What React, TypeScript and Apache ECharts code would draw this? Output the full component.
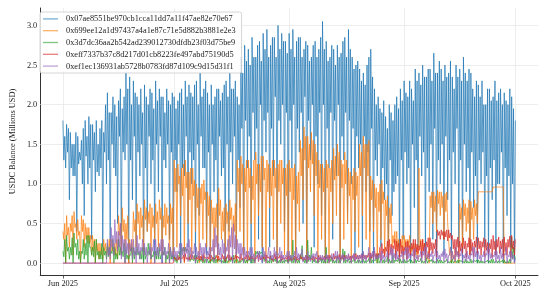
import React, { useEffect, useRef } from "react";
import * as echarts from "echarts";

const DAY = 86400000;
const START = Date.UTC(2025, 5, 1);

const seriesNames = [
  "0x07ae8551be970cb1cca11dd7a11f47ae82e70e67",
  "0x699ee12a1d97437a4a1e87c71e5d882b3881e2e3",
  "0x3d7dc36aa2b542ad239012730dfdb23f03d75be9",
  "0xeff7337b37c8d217d01cb8223fe497abd75190d5",
  "0xef1ec136931ab5728b0783fd87d109c9d15d31f1",
];
const seriesColors = ["#1f77b4", "#ff7f0e", "#2ca02c", "#d62728", "#9467bd"];

const tickDates = [Date.UTC(2025, 5, 1), Date.UTC(2025, 6, 1), Date.UTC(2025, 7, 1), Date.UTC(2025, 8, 1), Date.UTC(2025, 9, 1)];
const tickLabels = ["Jun 2025", "Jul 2025", "Aug 2025", "Sep 2025", "Oct 2025"];
const yTicks = [0, 0.5, 1.0, 1.5, 2.0, 2.5, 3.0];

// Four readings per day, Jun 1 .. Oct 1:
// 00:00 = high, 06:00 = mid, 12:00 = high2, 18:00 = low
const blueHigh = [
  1.8, 1.75, 1.65, 1.5, 1.6, 1.55, 1.8, 1.85, 1.75, 1.8,
  1.7, 1.65, 2.15, 1.9, 2.0, 2.05, 1.95, 2.4, 2.35, 2.3,
  2.1, 2.2, 2.25, 2.0, 2.15, 2.3, 2.2, 2.1, 2.2, 2.0,
  2.1, 2.05, 2.2, 2.3, 2.25, 2.1, 2.3, 2.4, 2.2, 2.15,
  2.25, 2.1, 2.2, 2.15, 2.3, 2.4, 2.2, 2.1, 2.6, 2.75,
  2.7, 2.85, 2.6, 2.8, 2.9, 2.95, 2.75, 2.85, 3.0, 2.9, 2.8,
  2.9, 2.95, 2.8, 2.85, 2.7, 2.75, 2.6, 2.8, 2.7, 3.05,
  2.8, 2.6, 2.7, 2.75, 2.65, 2.85, 2.95, 2.6, 2.5, 2.45,
  2.4, 2.5, 2.7, 2.2, 2.1, 1.9, 1.85, 2.0, 1.8, 2.1, 2.2,
  2.3, 2.1, 2.2, 2.45, 2.4, 2.5, 2.35, 2.45, 2.65, 2.4,
  2.45, 2.5, 2.4, 2.35, 2.5, 2.45, 2.6, 2.3, 2.4, 2.1,
  2.25, 2.3, 2.0, 2.2, 2.1, 2.05, 2.2, 2.15, 2.0, 2.1,
  1.8,
];
const blueMid = [
  1.3, 1.4, 1.2, 1.1, 1.25, 1.0, 1.35, 1.2, 1.3, 1.15,
  1.2, 1.4, 1.3, 1.5, 1.1, 1.6, 1.4, 1.5, 1.3, 1.6,
  1.4, 1.5, 1.2, 1.6, 1.3, 1.5, 1.6, 1.3, 1.5, 1.4,
  1.3, 1.5, 1.2, 1.6, 1.4, 1.3, 1.5, 1.6, 1.2, 1.4,
  1.5, 1.3, 1.6, 1.2, 1.5, 1.4, 1.6, 1.3, 1.7, 1.8,
  1.6, 1.9, 1.7, 2.0, 1.8, 1.9, 1.7, 2.1, 1.8, 2.0, 1.9,
  1.8, 2.0, 1.7, 1.9, 2.1, 1.8, 2.0, 1.6, 1.9, 2.0,
  1.7, 1.9, 1.8, 2.0, 1.6, 1.9, 1.8, 1.7, 1.6, 1.5,
  1.6, 1.4, 1.7, 1.3, 1.5, 1.2, 1.0, 1.3, 0.9, 1.1, 1.3,
  1.4, 1.2, 1.5, 1.3, 1.6, 1.4, 1.2, 1.5, 1.7, 1.3,
  1.5, 1.6, 1.3, 1.4, 1.7, 1.3, 1.5, 1.2, 1.4, 1.1,
  1.3, 1.4, 1.1, 1.2, 1.3, 1.0, 1.4, 1.2, 1.1, 1.0,
];
const blueHigh2 = [
  1.6, 1.7, 1.5, 1.65, 1.4, 1.7, 1.6, 1.75, 1.65, 1.5,
  1.8, 2.0, 1.9, 2.1, 1.85, 2.2, 2.1, 2.2, 2.0, 2.15,
  2.0, 1.9, 2.1, 2.2, 1.95, 2.05, 2.1, 1.9, 2.05, 2.15,
  1.95, 2.15, 2.0, 2.1, 2.15, 2.25, 2.0, 2.1, 2.3, 2.0,
  2.0, 2.2, 2.05, 2.25, 2.1, 2.2, 2.3, 2.0, 2.4, 2.55,
  2.5, 2.6, 2.75, 2.55, 2.7, 2.6, 2.85, 2.6, 2.7, 2.8, 2.65,
  2.7, 2.6, 2.85, 2.6, 2.8, 2.55, 2.75, 2.6, 2.85, 2.7,
  2.55, 2.75, 2.5, 2.6, 2.8, 2.6, 2.7, 2.45, 2.55, 2.3,
  2.25, 2.6, 2.35, 2.0, 1.95, 2.05, 1.7, 1.9, 2.0, 1.95, 2.05,
  2.15, 2.3, 2.05, 2.3, 2.25, 2.35, 2.45, 2.3, 2.4, 2.55,
  2.3, 2.35, 2.55, 2.2, 2.35, 2.3, 2.4, 2.45, 2.2, 2.3,
  2.1, 2.0, 2.2, 2.05, 2.3, 2.15, 2.0, 2.05, 2.2, 1.95,
];
const blueLow = [
  1.2, 0.8, 1.1, 0.4, 1.3, 0.6, 1.0, 0.3, 0.9, 1.1,
  0.2, 1.0, 0.1, 1.2, 0.5, 0.1, 1.3, 0.0, 0.8, 0.2,
  1.1, 0.0, 0.4, 1.0, 0.1, 0.9, 0.0, 1.2, 0.3, 0.05,
  0.9, 0.0, 1.1, 0.2, 1.0, 0.0, 0.6, 1.2, 0.1, 0.0,
  0.9, 0.1, 1.1, 0.0, 0.4, 1.0, 0.0, 0.7, 0.1, 1.2,
  0.0, 1.3, 0.3, 0.0, 1.4, 0.2, 1.1, 0.0, 1.5, 0.4, 0.0,
  1.2, 0.1, 1.4, 0.5, 0.0, 1.3, 0.2, 1.0, 0.6, 0.0,
  1.2, 0.3, 1.1, 0.0, 1.3, 0.5, 1.0, 0.1, 1.2, 0.0,
  0.9, 0.4, 0.0, 1.1, 0.2, 0.8, 0.0, 0.6, 1.0, 0.0, 0.3,
  1.0, 0.0, 0.7, 0.2, 1.1, 0.0, 0.9, 0.3, 0.0, 1.0,
  0.1, 0.8, 0.0, 1.0, 0.2, 0.0, 0.9, 0.1, 0.7, 0.0,
  1.0, 0.2, 0.0, 0.8, 0.1, 1.0, 0.0, 0.6, 0.2, 0.0,
];

const orangeHigh = [
  0.4, 0.6, 0.5, 0.65, 0.55, 0.6, 0.5, 0.45, 0.35, 0.3,
  0.25, 0.3, 0.2, 0.3, 0.25, 0.6, 0.7, 0.5, 0.3, 0.65,
  0.75, 0.7, 0.8, 0.65, 0.7, 0.75, 0.8, 0.6, 0.7, 0.75,
  1.3, 1.25, 1.2, 1.3, 1.15, 1.2, 1.0, 0.95, 1.05, 0.9,
  0.8, 0.7, 0.95, 0.65, 0.75, 0.8, 0.6, 1.3, 1.35, 1.2,
  1.3, 1.1, 1.4, 1.25, 1.35, 1.3, 1.2, 1.3, 1.25, 1.3, 1.2,
  1.3, 1.2, 1.1, 1.55, 1.72, 1.6, 1.65, 1.5, 1.3, 1.25,
  1.3, 1.2, 1.45, 1.5, 1.3, 1.4, 1.2, 1.1, 1.15, 1.5,
  1.6, 1.5, 1.1, 1.0, 0.9, 1.05, 0.8, 0.7, 0.35, 0.4, 0.3,
  0.35, 0.3, 0.2, 0.25, 1.2, 0.3, 0.1, 0.85, 0.9, 0.92,
  0.9, 0.88, 0.3, 0.15, 0.2, 0.75, 0.8, 0.7, 0.78, 0.8,
  0.9, 0.9, 0.9, 0.9, 0.96, 0.96, 0.96, 0.0, 0.0, 0.0,
  0.0,
];
const orangeMid = [
  0.3, 0.35, 0.4, 0.45, 0.35, 0.4, 0.3, 0.25, 0.15, 0.15,
  0.1, 0.15, 0.12, 0.15, 0.1, 0.35, 0.4, 0.3, 0.15, 0.4,
  0.5, 0.45, 0.55, 0.5, 0.45, 0.5, 0.55, 0.45, 0.5, 0.5,
  0.9, 1.0, 0.85, 0.95, 0.8, 0.85, 0.7, 0.75, 0.8, 0.6,
  0.5, 0.45, 0.6, 0.4, 0.5, 0.55, 0.4, 0.9, 1.0, 0.9,
  0.95, 0.8, 1.0, 0.9, 1.05, 0.9, 0.85, 0.95, 0.9, 1.0, 0.85,
  0.9, 0.8, 0.75, 1.1, 1.3, 1.2, 1.25, 1.1, 0.95, 0.9,
  0.95, 0.9, 1.05, 1.1, 0.95, 1.0, 0.85, 0.8, 0.85, 1.1,
  1.2, 1.1, 0.8, 0.7, 0.65, 0.75, 0.6, 0.5, 0.25, 0.2, 0.2,
  0.2, 0.2, 0.15, 0.1, 0.2, 0.15, 0.05, 0.7, 0.65, 0.75,
  0.7, 0.65, 0.1, 0.05, 0.1, 0.55, 0.6, 0.5, 0.55, 0.6,
  0.9, 0.9, 0.9, 0.9, 0.96, 0.96, 0.96, 0.0, 0.0, 0.0,
];
const orangeHigh2 = [
  0.5, 0.45, 0.6, 0.5, 0.4, 0.55, 0.45, 0.35, 0.3, 0.25,
  0.2, 0.25, 0.3, 0.2, 0.3, 0.5, 0.55, 0.6, 0.25, 0.55,
  0.65, 0.6, 0.7, 0.75, 0.6, 0.65, 0.7, 0.75, 0.6, 0.7,
  1.2, 1.1, 1.25, 1.15, 1.2, 1.05, 0.95, 1.0, 0.9, 0.85,
  0.7, 0.75, 0.8, 0.7, 0.65, 0.7, 0.75, 1.2, 1.25, 1.3,
  1.2, 1.3, 1.25, 1.35, 1.2, 1.25, 1.3, 1.2, 1.3, 1.2, 1.25,
  1.2, 1.25, 1.15, 1.45, 1.6, 1.5, 1.55, 1.4, 1.25, 1.2,
  1.25, 1.3, 1.35, 1.4, 1.25, 1.3, 1.15, 1.2, 1.1, 1.4,
  1.5, 1.55, 1.05, 0.95, 1.0, 0.9, 0.85, 0.75, 0.4, 0.3, 0.35,
  0.3, 0.35, 0.25, 0.2, 0.3, 0.25, 0.15, 0.9, 0.85, 0.9,
  0.85, 0.9, 0.2, 0.1, 0.15, 0.7, 0.75, 0.8, 0.7, 0.75,
  0.9, 0.9, 0.9, 0.9, 0.96, 0.96, 0.96, 0.0, 0.0, 0.0,
];
const orangeLow = [
  0.0, 0.2, 0.1, 0.3, 0.0, 0.2, 0.25, 0.1, 0.0, 0.05,
  0.05, 0.1, 0.0, 0.1, 0.05, 0.1, 0.2, 0.0, 0.1, 0.2,
  0.3, 0.1, 0.4, 0.0, 0.3, 0.2, 0.1, 0.35, 0.0, 0.1,
  0.2, 0.6, 0.0, 0.5, 0.1, 0.4, 0.0, 0.3, 0.2, 0.0,
  0.1, 0.0, 0.3, 0.1, 0.0, 0.2, 0.0, 0.4, 0.1, 0.0,
  0.5, 0.0, 0.6, 0.2, 0.0, 0.7, 0.3, 0.0, 0.5, 0.1, 0.0,
  0.1, 0.0, 0.4, 0.8, 0.0, 0.9, 0.6, 0.0, 0.3, 0.0,
  0.0, 0.5, 0.6, 0.0, 0.3, 0.5, 0.0, 0.4, 0.2, 0.6,
  0.3, 0.0, 0.4, 0.0, 0.3, 0.1, 0.0, 0.2, 0.1, 0.0, 0.05,
  0.05, 0.1, 0.0, 0.05, 0.1, 0.0, 0.0, 0.5, 0.4, 0.6,
  0.3, 0.5, 0.0, 0.0, 0.0, 0.2, 0.4, 0.1, 0.3, 0.5,
  0.9, 0.9, 0.9, 0.9, 0.96, 0.96, 0.96, 0.0, 0.0, 0.0,
];

const greenHigh = [
  0.15, 0.35, 0.2, 0.38, 0.3, 0.15, 0.25, 0.35, 0.2, 0.3,
  0.15, 0.2, 0.25, 0.15, 0.2, 0.3, 0.15, 0.2, 0.1, 0.2,
  0.2, 0.15, 0.2, 0.25, 0.1, 0.15, 0.2, 0.15, 0.1, 0.2,
  0.1, 0.05, 0.2, 0.2, 0.15, 0.05, 0.1, 0.05, 0.08, 0.05,
  0.05, 0.1, 0.05, 0.03, 0.08, 0.05, 0.1, 0.05, 0.03, 0.05,
  0.05, 0.08, 0.15, 0.15, 0.12, 0.05, 0.1, 0.05, 0.03, 0.05, 0.04,
  0.05, 0.29, 0.05, 0.1, 0.05, 0.29, 0.2, 0.05, 0.03, 0.05,
  0.2, 0.05, 0.04, 0.1, 0.03, 0.15, 0.05, 0.03, 0.02, 0.04,
  0.05, 0.03, 0.1, 0.04, 0.12, 0.05, 0.03, 0.05, 0.1, 0.04, 0.05,
  0.05, 0.03, 0.04, 0.05, 0.02, 0.03, 0.06, 0.04, 0.03, 0.05,
  0.04, 0.03, 0.02, 0.05, 0.03, 0.04, 0.02, 0.03, 0.05, 0.03,
  0.04, 0.03, 0.02, 0.03, 0.05, 0.03, 0.02, 0.04, 0.03, 0.33,
  0.05,
];
const greenMid = [
  0.08, 0.15, 0.1, 0.2, 0.05, 0.12, 0.1, 0.2, 0.08, 0.1,
  0.05, 0.1, 0.08, 0.12, 0.05, 0.1, 0.08, 0.05, 0.1, 0.05,
  0.1, 0.05, 0.05, 0.1, 0.08, 0.05, 0.05, 0.1, 0.05, 0.05,
  0.02, 0.05, 0.15, 0.15, 0.02, 0.03, 0.0, 0.02, 0.0, 0.0,
  0.02, 0.0, 0.02, 0.0, 0.0, 0.02, 0.0, 0.0, 0.02, 0.0,
  0.03, 0.0, 0.12, 0.12, 0.02, 0.0, 0.0, 0.02, 0.0, 0.0, 0.02,
  0.02, 0.0, 0.0, 0.05, 0.0, 0.02, 0.0, 0.0, 0.02, 0.0,
  0.0, 0.02, 0.0, 0.0, 0.05, 0.0, 0.0, 0.02, 0.0, 0.0,
  0.0, 0.02, 0.0, 0.03, 0.0, 0.0, 0.02, 0.0, 0.0, 0.02, 0.0,
  0.0, 0.02, 0.0, 0.0, 0.02, 0.0, 0.0, 0.02, 0.0, 0.0,
  0.0, 0.02, 0.0, 0.0, 0.0, 0.02, 0.0, 0.0, 0.0, 0.02,
  0.0, 0.0, 0.02, 0.0, 0.0, 0.0, 0.02, 0.0, 0.0, 0.05,
];
const greenHigh2 = [
  0.3, 0.2, 0.32, 0.25, 0.15, 0.3, 0.35, 0.2, 0.28, 0.15,
  0.25, 0.15, 0.2, 0.3, 0.12, 0.2, 0.25, 0.1, 0.2, 0.15,
  0.15, 0.2, 0.1, 0.2, 0.15, 0.2, 0.1, 0.2, 0.15, 0.1,
  0.08, 0.15, 0.2, 0.18, 0.05, 0.1, 0.04, 0.08, 0.05, 0.03,
  0.08, 0.05, 0.04, 0.06, 0.03, 0.08, 0.04, 0.03, 0.06, 0.04,
  0.1, 0.05, 0.15, 0.14, 0.06, 0.03, 0.05, 0.08, 0.04, 0.03, 0.05,
  0.1, 0.06, 0.04, 0.22, 0.05, 0.1, 0.04, 0.03, 0.06, 0.04,
  0.05, 0.08, 0.03, 0.04, 0.18, 0.04, 0.03, 0.06, 0.04, 0.03,
  0.03, 0.06, 0.04, 0.1, 0.03, 0.04, 0.08, 0.03, 0.04, 0.06, 0.03,
  0.03, 0.05, 0.02, 0.04, 0.06, 0.02, 0.03, 0.05, 0.02, 0.04,
  0.02, 0.05, 0.03, 0.02, 0.04, 0.03, 0.05, 0.02, 0.03, 0.04,
  0.03, 0.02, 0.04, 0.05, 0.02, 0.03, 0.04, 0.02, 0.05, 0.2,
];
const greenLow = [
  0.0, 0.05, 0.0, 0.1, 0.0, 0.05, 0.0, 0.1, 0.0, 0.05,
  0.0, 0.05, 0.1, 0.0, 0.05, 0.1, 0.0, 0.05, 0.0, 0.1,
  0.05, 0.0, 0.1, 0.05, 0.0, 0.05, 0.1, 0.0, 0.0, 0.05,
  0.0, 0.0, 0.15, 0.15, 0.05, 0.0, 0.03, 0.0, 0.02, 0.0,
  0.0, 0.02, 0.0, 0.0, 0.02, 0.0, 0.03, 0.0, 0.0, 0.0,
  0.0, 0.02, 0.1, 0.12, 0.05, 0.0, 0.02, 0.0, 0.0, 0.0, 0.0,
  0.0, 0.02, 0.0, 0.03, 0.0, 0.05, 0.02, 0.0, 0.0, 0.0,
  0.02, 0.0, 0.0, 0.02, 0.0, 0.03, 0.0, 0.0, 0.0, 0.0,
  0.0, 0.0, 0.02, 0.0, 0.03, 0.0, 0.0, 0.0, 0.02, 0.0, 0.0,
  0.0, 0.0, 0.0, 0.02, 0.0, 0.0, 0.02, 0.0, 0.0, 0.0,
  0.0, 0.0, 0.0, 0.02, 0.0, 0.0, 0.0, 0.0, 0.02, 0.0,
  0.0, 0.0, 0.0, 0.0, 0.02, 0.0, 0.0, 0.0, 0.0, 0.1,
];

const redHigh = [
  0, 0, 0, 0, 0, 0, 0, 0, 0, 0,
  0, 0, 0, 0, 0, 0, 0, 0, 0, 0,
  0, 0, 0, 0, 0, 0, 0, 0, 0, 0,
  0.08, 0.1, 0.06, 0.12, 0.08, 0.1, 0.07, 0.09, 0.12, 0.08,
  0.1, 0.07, 0.09, 0.11, 0.08, 0.1, 0.06, 0.09, 0.12, 0.08,
  0.1, 0.09, 0.07, 0.11, 0.08, 0.1, 0.09, 0.12, 0.08, 0.1, 0.07,
  0.09, 0.06, 0.08, 0.1, 0.07, 0.09, 0.06, 0.08, 0.1, 0.07,
  0.08, 0.1, 0.12, 0.09, 0.08, 0.1, 0.11, 0.09, 0.12, 0.1,
  0.12, 0.1, 0.13, 0.15, 0.12, 0.25, 0.2, 0.3, 0.22, 0.28, 0.3,
  0.2, 0.28, 0.25, 0.3, 0.22, 0.3, 0.27, 0.32, 0.25, 0.42,
  0.42, 0.4, 0.42, 0.35, 0.3, 0.28, 0.32, 0.25, 0.3, 0.28,
  0.32, 0.27, 0.3, 0.25, 0.35, 0.3, 0.28, 0.33, 0.3, 0.35,
  0.3,
];
const redMid = [
  0, 0, 0, 0, 0, 0, 0, 0, 0, 0,
  0, 0, 0, 0, 0, 0, 0, 0, 0, 0,
  0, 0, 0, 0, 0, 0, 0, 0, 0, 0,
  0.05, 0.04, 0.06, 0.05, 0.04, 0.06, 0.05, 0.04, 0.06, 0.05,
  0.05, 0.06, 0.04, 0.05, 0.06, 0.04, 0.05, 0.06, 0.04, 0.05,
  0.04, 0.05, 0.06, 0.04, 0.05, 0.06, 0.04, 0.05, 0.06, 0.04, 0.05,
  0.04, 0.05, 0.04, 0.05, 0.04, 0.05, 0.04, 0.05, 0.04, 0.05,
  0.05, 0.06, 0.05, 0.06, 0.05, 0.06, 0.05, 0.06, 0.05, 0.06,
  0.06, 0.07, 0.06, 0.08, 0.1, 0.12, 0.15, 0.12, 0.18, 0.15, 0.12,
  0.15, 0.12, 0.18, 0.14, 0.16, 0.15, 0.2, 0.16, 0.18, 0.35,
  0.35, 0.33, 0.32, 0.18, 0.2, 0.15, 0.18, 0.2, 0.15, 0.2,
  0.18, 0.2, 0.16, 0.18, 0.17, 0.2, 0.18, 0.15, 0.2, 0.18,
];
const redHigh2 = [
  0, 0, 0, 0, 0, 0, 0, 0, 0, 0,
  0, 0, 0, 0, 0, 0, 0, 0, 0, 0,
  0, 0, 0, 0, 0, 0, 0, 0, 0, 0,
  0.06, 0.08, 0.1, 0.07, 0.11, 0.06, 0.09, 0.1, 0.07, 0.11,
  0.07, 0.1, 0.06, 0.09, 0.11, 0.07, 0.1, 0.08, 0.06, 0.1,
  0.08, 0.06, 0.1, 0.07, 0.11, 0.08, 0.06, 0.09, 0.1, 0.07, 0.09,
  0.07, 0.09, 0.06, 0.08, 0.1, 0.06, 0.09, 0.07, 0.08, 0.09,
  0.1, 0.07, 0.09, 0.11, 0.1, 0.08, 0.09, 0.12, 0.1, 0.11,
  0.1, 0.13, 0.11, 0.12, 0.2, 0.18, 0.28, 0.24, 0.3, 0.25, 0.22,
  0.27, 0.22, 0.3, 0.24, 0.28, 0.25, 0.32, 0.26, 0.3, 0.4,
  0.4, 0.42, 0.38, 0.3, 0.33, 0.25, 0.28, 0.32, 0.26, 0.33,
  0.28, 0.32, 0.26, 0.3, 0.28, 0.33, 0.3, 0.26, 0.34, 0.28,
];
const redLow = [
  0, 0, 0, 0, 0, 0, 0, 0, 0, 0,
  0, 0, 0, 0, 0, 0, 0, 0, 0, 0,
  0, 0, 0, 0, 0, 0, 0, 0, 0, 0,
  0.03, 0.05, 0.02, 0.04, 0.05, 0.03, 0.04, 0.02, 0.05, 0.03,
  0.04, 0.03, 0.05, 0.02, 0.04, 0.03, 0.05, 0.02, 0.04, 0.03,
  0.05, 0.03, 0.02, 0.04, 0.03, 0.05, 0.02, 0.04, 0.03, 0.05, 0.02,
  0.03, 0.02, 0.04, 0.03, 0.02, 0.04, 0.03, 0.02, 0.04, 0.03,
  0.04, 0.03, 0.05, 0.04, 0.03, 0.05, 0.04, 0.03, 0.05, 0.04,
  0.05, 0.04, 0.06, 0.05, 0.04, 0.08, 0.06, 0.1, 0.05, 0.08, 0.1,
  0.05, 0.1, 0.08, 0.12, 0.06, 0.1, 0.08, 0.12, 0.07, 0.3,
  0.3, 0.28, 0.3, 0.1, 0.08, 0.12, 0.07, 0.1, 0.08, 0.12,
  0.1, 0.08, 0.12, 0.07, 0.1, 0.12, 0.08, 0.1, 0.07, 0.1,
];

const purpleHigh = [
  0, 0, 0, 0, 0, 0, 0, 0, 0, 0,
  0, 0, 0.3, 0.45, 0.55, 0.4, 0.35, 0.3, 0.25, 0.3,
  0.35, 0.2, 0.25, 0.15, 0.2, 0.3, 0.25, 0.3, 0.15, 0.2,
  0.2, 0.15, 0.25, 0.2, 0.3, 0.15, 0.2, 0.25, 0.2, 0.15,
  0.2, 0.45, 0.25, 0.3, 0.2, 0.35, 0.5, 0.3, 0.25, 0.2,
  0.15, 0.2, 0.1, 0.15, 0.2, 0.1, 0.15, 0.2, 0.12, 0.15, 0.1,
  0.15, 0.1, 0.2, 0.12, 0.08, 0.15, 0.1, 0.12, 0.08, 0.1,
  0.12, 0.08, 0.1, 0.15, 0.1, 0.08, 0.12, 0.1, 0.08, 0.1,
  0.15, 0.1, 0.12, 0.2, 0.1, 0.15, 0.08, 0.12, 0.18, 0.15, 0.1,
  0.15, 0.2, 0.12, 0.18, 0.1, 0.15, 0.2, 0.12, 0.1, 0.15,
  0.12, 0.18, 0.1, 0.15, 0.2, 0.12, 0.1, 0.15, 0.12, 0.2,
  0.15, 0.1, 0.12, 0.18, 0.1, 0.15, 0.2, 0.12, 0.1, 0.15,
  0.05,
];
const purpleMid = [
  0, 0, 0, 0, 0, 0, 0, 0, 0, 0,
  0, 0, 0.1, 0.2, 0.25, 0.2, 0.15, 0.12, 0.15, 0.1,
  0.12, 0.15, 0.1, 0.12, 0.15, 0.1, 0.15, 0.1, 0.12, 0.08,
  0.08, 0.12, 0.1, 0.12, 0.1, 0.12, 0.08, 0.1, 0.12, 0.1,
  0.15, 0.2, 0.1, 0.12, 0.15, 0.2, 0.18, 0.12, 0.1, 0.08,
  0.1, 0.06, 0.08, 0.05, 0.08, 0.1, 0.05, 0.08, 0.1, 0.05, 0.08,
  0.05, 0.08, 0.06, 0.1, 0.05, 0.04, 0.06, 0.08, 0.05, 0.04,
  0.05, 0.06, 0.08, 0.04, 0.06, 0.05, 0.04, 0.06, 0.05, 0.06,
  0.05, 0.1, 0.08, 0.05, 0.06, 0.05, 0.08, 0.1, 0.06, 0.05, 0.08,
  0.1, 0.06, 0.09, 0.05, 0.08, 0.1, 0.06, 0.08, 0.09, 0.05,
  0.08, 0.06, 0.1, 0.05, 0.08, 0.09, 0.06, 0.05, 0.1, 0.08,
  0.05, 0.08, 0.1, 0.06, 0.08, 0.05, 0.06, 0.1, 0.08, 0.05,
];
const purpleHigh2 = [
  0, 0, 0, 0, 0, 0, 0, 0, 0, 0,
  0, 0, 0.2, 0.35, 0.4, 0.5, 0.3, 0.25, 0.3, 0.2,
  0.25, 0.3, 0.2, 0.25, 0.3, 0.2, 0.3, 0.2, 0.25, 0.15,
  0.15, 0.25, 0.2, 0.25, 0.2, 0.25, 0.15, 0.2, 0.25, 0.2,
  0.3, 0.35, 0.2, 0.25, 0.3, 0.45, 0.35, 0.25, 0.2, 0.15,
  0.2, 0.12, 0.15, 0.1, 0.15, 0.2, 0.1, 0.15, 0.2, 0.1, 0.15,
  0.1, 0.15, 0.12, 0.18, 0.1, 0.08, 0.12, 0.15, 0.1, 0.08,
  0.1, 0.12, 0.15, 0.08, 0.12, 0.1, 0.08, 0.12, 0.1, 0.12,
  0.1, 0.2, 0.15, 0.1, 0.12, 0.1, 0.15, 0.2, 0.12, 0.1, 0.15,
  0.2, 0.12, 0.18, 0.1, 0.15, 0.2, 0.12, 0.15, 0.18, 0.1,
  0.15, 0.12, 0.2, 0.1, 0.15, 0.18, 0.12, 0.1, 0.2, 0.15,
  0.1, 0.15, 0.2, 0.12, 0.15, 0.1, 0.12, 0.2, 0.15, 0.1,
];
const purpleLow = [
  0, 0, 0, 0, 0, 0, 0, 0, 0, 0,
  0, 0, 0.05, 0.1, 0.15, 0.05, 0.0, 0.1, 0.05, 0.0,
  0.05, 0.1, 0.0, 0.05, 0.0, 0.08, 0.0, 0.05, 0.0, 0.03,
  0.05, 0.0, 0.08, 0.02, 0.05, 0.0, 0.06, 0.03, 0.0, 0.05,
  0.02, 0.1, 0.0, 0.05, 0.03, 0.0, 0.1, 0.05, 0.0, 0.03,
  0.02, 0.0, 0.03, 0.01, 0.0, 0.02, 0.03, 0.0, 0.01, 0.02, 0.0,
  0.02, 0.0, 0.03, 0.01, 0.0, 0.02, 0.01, 0.0, 0.02, 0.01,
  0.0, 0.02, 0.01, 0.0, 0.02, 0.01, 0.0, 0.02, 0.01, 0.0,
  0.02, 0.0, 0.03, 0.05, 0.0, 0.02, 0.01, 0.0, 0.03, 0.02, 0.0,
  0.02, 0.05, 0.0, 0.03, 0.02, 0.0, 0.05, 0.02, 0.0, 0.03,
  0.02, 0.0, 0.04, 0.02, 0.05, 0.0, 0.02, 0.03, 0.0, 0.05,
  0.02, 0.0, 0.03, 0.05, 0.0, 0.02, 0.04, 0.0, 0.02, 0.0,
];

const readings = [
  [blueHigh, blueMid, blueHigh2, blueLow],
  [orangeHigh, orangeMid, orangeHigh2, orangeLow],
  [greenHigh, greenMid, greenHigh2, greenLow],
  [redHigh, redMid, redHigh2, redLow],
  [purpleHigh, purpleMid, purpleHigh2, purpleLow],
];

function buildPoints(sets: number[][]) {
  const pts: [number, number][] = [];
  const n = sets[0].length;
  for (let d = 0; d < n; d++) {
    for (let k = 0; k < sets.length; k++) {
      const v = sets[k][d];
      if (v !== undefined) pts.push([START + (d + k / sets.length) * DAY, v]);
    }
  }
  return pts;
}

const FONT = "'Liberation Serif', 'DejaVu Serif', serif";

export default function App() {
  const ref = useRef<HTMLDivElement>(null);
  useEffect(() => {
    if (!ref.current) return;
    const chart = echarts.init(ref.current, undefined, { renderer: "svg" });
    const span = tickDates[4] - tickDates[0];
    const series: any[] = seriesNames.map((name, i) => ({
      name,
      type: "line",
      data: buildPoints(readings[i]),
      showSymbol: false,
      symbol: "none",
      color: seriesColors[i],
      lineStyle: { width: 0.9, opacity: 0.8, color: seriesColors[i] },
      z: 3,
      silent: true,
    }));
    series[0].markLine = {
      silent: true,
      symbol: ["none", "none"],
      label: { show: false },
      z: 1,
      lineStyle: { color: "#e8e8e8", width: 0.8, type: "solid" },
      data: [
        ...tickDates.map((t) => ({ xAxis: t })),
        ...yTicks.map((v) => ({ yAxis: v })),
      ],
    };
    chart.setOption({
      animation: false,
      textStyle: { fontFamily: FONT },
      grid: { left: 35, right: 9, top: 8, bottom: 23 },
      legend: {
        show: true,
        data: seriesNames,
        orient: "vertical",
        left: 40,
        top: 12,
        icon: "rect",
        itemWidth: 15,
        itemHeight: 1.3,
        itemGap: 0,
        padding: [1, 6, 1, 3],
        backgroundColor: "rgba(255,255,255,0.85)",
        borderColor: "#cccccc",
        borderWidth: 0.8,
        borderRadius: 2,
        itemStyle: { opacity: 0.6 },
        textStyle: { fontFamily: FONT, fontSize: 8.3, color: "#222", lineHeight: 11.8, padding: [0, 0, 0, 3] },
      },
      xAxis: {
        type: "value",
        min: tickDates[0] - span * 0.05,
        max: tickDates[4] + span * 0.05,
        axisLine: { show: true, onZero: false, lineStyle: { color: "#333", width: 1 } },
        axisTick: { show: true, length: 3.5, lineStyle: { color: "#333", width: 0.8 }, customValues: tickDates },
        axisLabel: {
          customValues: tickDates,
          fontFamily: FONT,
          fontSize: 8.3,
          color: "#222",
          margin: 4,
          formatter: (v: number) => {
            const idx = tickDates.indexOf(v);
            return idx >= 0 ? tickLabels[idx] : "";
          },
        },
        splitLine: { show: false },
      },
      yAxis: {
        type: "value",
        min: -0.15,
        max: 3.22,
        name: "USDC Balance (Millions USD)",
        nameLocation: "middle",
        nameGap: 18,
        nameTextStyle: { fontFamily: FONT, fontSize: 8.3, color: "#222" },
        axisLine: { show: true, lineStyle: { color: "#333", width: 1 } },
        axisTick: { show: false },
        axisLabel: {
          customValues: yTicks,
          fontFamily: FONT,
          fontSize: 8.3,
          color: "#222",
          margin: 3,
          formatter: (v: number) => v.toFixed(1),
        },
        splitLine: { show: false },
      },
      series,
    });
    return () => chart.dispose();
  }, []);
  return <div ref={ref} style={{ position: "fixed", left: 0, top: 0, width: 547, height: 298 }} />;
}
